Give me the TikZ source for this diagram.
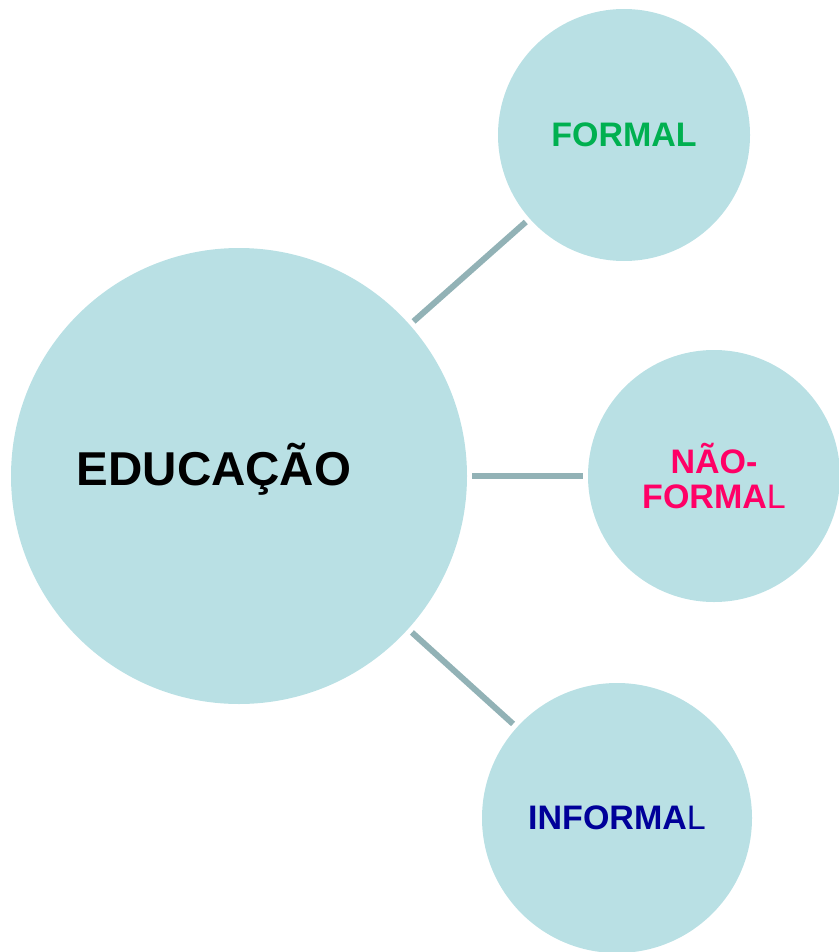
\documentclass[tikz,border=0pt]{standalone}
\usepackage{fontspec}
\setmainfont{Liberation Sans}
\usepackage{xcolor}
\usepackage{tikz}
\usetikzlibrary{positioning,calc}

\definecolor{bubble}{RGB}{185,224,228}
\definecolor{linkgray}{RGB}{146,178,182}
\definecolor{formalgreen}{RGB}{0,176,80}
\definecolor{naopink}{RGB}{255,0,102}
\definecolor{infblue}{RGB}{0,0,153}

\begin{document}
\begin{tikzpicture}[x=1pt,y=-1pt,
        bubble/.style={circle, fill=bubble, draw=none, inner sep=0pt},
        link/.style={draw=linkgray, line width=6pt, shorten >=5pt, shorten <=5pt},
        kind/.style={font=\fontsize{34}{35}\selectfont\bfseries, align=center}]
        \useasboundingbox (0,0) rectangle (838,952);
        % circles
        \node[bubble, minimum size=456pt] (educacao) at (239,476) {};
        \node[bubble, minimum size=252pt, kind, text=formalgreen] (formal) at (624,135) {FORMAL};
        \node[bubble, minimum size=252pt, kind, text=naopink] (naoformal) at (714,476) {NÃO-\\FORMA{\mdseries L}};
        \node[bubble, minimum size=270pt, kind, text=infblue] (informal) at (617,818) {INFORMA{\mdseries L}};
        \node[font=\fontsize{47.5}{50}\selectfont\bfseries] (educacaotxt) at ([xshift=-25pt,yshift=7pt]educacao.center) {EDUCAÇÃO};
        % links
        \draw[link] (educacao) -- (formal);
        \draw[link] (educacao) -- (naoformal);
        \draw[link] (educacao) -- (informal);
    \end{tikzpicture}
\end{document}
